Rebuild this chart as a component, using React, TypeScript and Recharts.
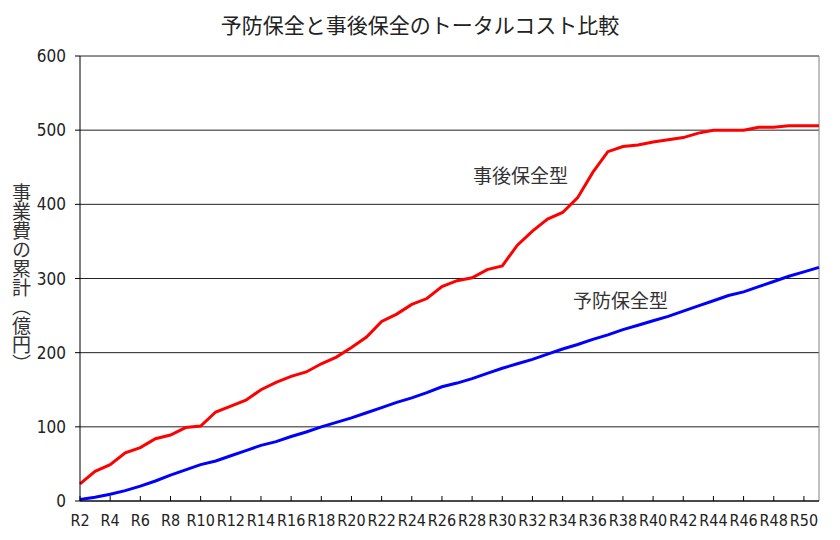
import { LineChart, Line, XAxis, YAxis, CartesianGrid, ReferenceLine } from 'recharts'

// 年度 R2〜R51
const years = [
  'R2', 'R3', 'R4', 'R5', 'R6', 'R7', 'R8', 'R9', 'R10', 'R11',
  'R12', 'R13', 'R14', 'R15', 'R16', 'R17', 'R18', 'R19', 'R20', 'R21',
  'R22', 'R23', 'R24', 'R25', 'R26', 'R27', 'R28', 'R29', 'R30', 'R31',
  'R32', 'R33', 'R34', 'R35', 'R36', 'R37', 'R38', 'R39', 'R40', 'R41',
  'R42', 'R43', 'R44', 'R45', 'R46', 'R47', 'R48', 'R49', 'R50', 'R51',
]

// 事後保全型（億円・累計）
const reactiveCost = [
  23, 40, 49, 65, 72, 84, 89, 99, 101, 120,
  128, 136, 150, 160, 168, 174, 185, 194, 207, 221,
  242, 252, 265, 273, 289, 297, 301, 312, 317, 345,
  364, 380, 389, 409, 443, 471, 478, 480, 484, 487,
  490, 496, 500, 500, 500, 504, 504, 506, 506, 506,
]

// 予防保全型（億円・累計）
const preventiveCost = [
  2, 5, 9, 14, 20, 27, 35, 42, 49, 54,
  61, 68, 75, 80, 87, 93, 100, 106, 112, 119,
  126, 133, 139, 146, 154, 159, 165, 172, 179, 185,
  191, 198, 205, 211, 218, 224, 231, 237, 243, 249,
  256, 263, 270, 277, 282, 289, 296, 303, 309, 315,
]

const yTicks = [0, 100, 200, 300, 400, 500, 600]

const data = years.map((year, i) => ({
  year,
  reactive: reactiveCost[i],
  preventive: preventiveCost[i],
}))

const numFont = '"DejaVu Sans Condensed", "DejaVu Sans", sans-serif'
const jpFont = '"Noto Sans CJK JP", "Noto Sans", sans-serif'

const XTick = ({ x, y, payload }: { x: number; y: number; payload: { value: string } }) => (
  <g>
    <line x1={x} y1={y} x2={x} y2={y - 5} stroke="#000" />
    <text x={x} y={y + 25} textAnchor="middle" fill="#222" fontSize={16} fontFamily={numFont}>
      {payload.value}
    </text>
  </g>
)

export default function App() {
  return (
    <div style={{ position: 'absolute', left: 0, top: 0, width: 840, height: 540, background: '#fff' }}>
      <LineChart
        width={840}
        height={540}
        data={data}
        margin={{ top: 56, right: 21, bottom: 0, left: 0 }}
      >
        <CartesianGrid vertical={false} stroke="#222" strokeOpacity={1} />
        <XAxis
          dataKey="year"
          interval={1}
          height={39}
          tickSize={0}
          tickMargin={0}
          tickLine={false}
          axisLine={{ stroke: '#000' }}
          tick={XTick}
        />
        <YAxis
          width={80}
          domain={[0, 600]}
          ticks={yTicks}
          tickSize={5}
          tickMargin={9}
          axisLine={{ stroke: '#000' }}
          tickLine={{ stroke: '#000' }}
          tick={{ fill: '#222', fontSize: 17, fontFamily: numFont }}
        />
        <ReferenceLine x="R51" stroke="#808080" />
        <Line
          type="linear"
          dataKey="reactive"
          stroke="#ff0000"
          strokeWidth={3}
          dot={false}
          isAnimationActive={false}
        />
        <Line
          type="linear"
          dataKey="preventive"
          stroke="#0000ff"
          strokeWidth={3}
          dot={false}
          isAnimationActive={false}
        />
      </LineChart>

      <div
        style={{
          position: 'absolute', left: 0, top: 10, width: 840, textAlign: 'center',
          fontFamily: jpFont, fontSize: 21, color: '#222', lineHeight: '28px',
        }}
      >
        予防保全と事後保全のトータルコスト比較
      </div>
      <div
        style={{
          position: 'absolute', left: 11, top: 183, writingMode: 'vertical-rl',
          fontFamily: jpFont, fontSize: 19, color: '#333', lineHeight: '20px',
        }}
      >
        事業費の累計（億円）
      </div>
      <div
        style={{
          position: 'absolute', left: 473, top: 162, fontFamily: jpFont,
          fontSize: 19, color: '#333', lineHeight: '26px',
        }}
      >
        事後保全型
      </div>
      <div
        style={{
          position: 'absolute', left: 573, top: 287, fontFamily: jpFont,
          fontSize: 19, color: '#333', lineHeight: '26px',
        }}
      >
        予防保全型
      </div>
    </div>
  )
}
